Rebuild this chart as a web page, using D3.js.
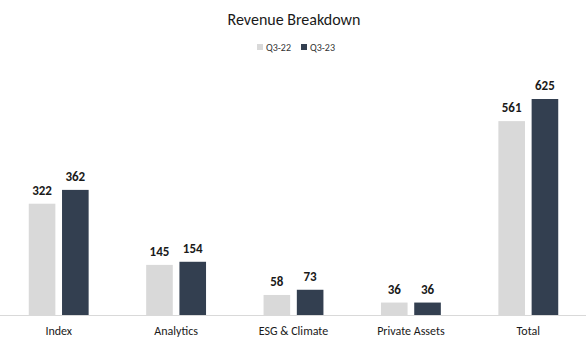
<html>
<script src='https://d3js.org/d3.v7.min.js'></script>
<body style="margin:0;background:#fff">
<svg class="chart" width=586 height=349></svg>
<script>
// chart values
var categories = ["Index", "Analytics", "ESG & Climate", "Private Assets", "Total"];
var seriesNames = ["Q3-22", "Q3-23"];
var q322 = [322, 145, 58, 36, 561];
var q323 = [362, 154, 73, 36, 625];
var colors = ["#d9d9d9", "#333f50"];

var font = "Calibri, Carlito, 'Open Sans', sans-serif";
var svg = d3.select(".chart");
var baseY = 315;

var x = d3.scaleBand().domain(categories).range([0, 587]).paddingInner(0.49).paddingOuter(0.245);
var x1 = d3.scaleBand().domain(seriesNames).range([0, x.bandwidth()]).paddingInner(0.2);
var y = d3.scaleLinear().domain([0, 625]).range([baseY, 99]);

var rows = categories.map(function(c, i) { return {cat: c, vals: [q322[i], q323[i]]}; });

// title
svg.append("text")
  .attr("x", 294).attr("y", 25)
  .attr("text-anchor", "middle")
  .style("font-family", font).style("font-size", "16px").attr("fill", "#1a1a1a")
  .text("Revenue Breakdown");

// legend
var legend = svg.append("g").attr("transform", "translate(257,47)");
seriesNames.forEach(function(s, i) {
  var g = legend.append("g").attr("transform", "translate(" + (i * 44) + ",0)");
  g.append("rect").attr("x", 0).attr("y", -3).attr("width", 6).attr("height", 6).attr("fill", colors[i]);
  g.append("text").attr("x", 9).attr("y", 3.5)
    .style("font-family", font).style("font-size", "10px").attr("fill", "#333")
    .text(s);
});

// bars
var groups = svg.selectAll(".grp").data(rows).enter()
  .append("g")
  .attr("transform", function(d) { return "translate(" + x(d.cat) + ",0)"; });

groups.selectAll("rect").data(function(d) { return d.vals.map(function(v, i) { return {s: seriesNames[i], v: v, i: i}; }); })
  .enter().append("rect")
  .attr("x", function(d) { return x1(d.s); })
  .attr("y", function(d) { return y(d.v); })
  .attr("width", x1.bandwidth())
  .attr("height", function(d) { return baseY - y(d.v); })
  .attr("fill", function(d) { return colors[d.i]; });

groups.selectAll("text").data(function(d) { return d.vals.map(function(v, i) { return {s: seriesNames[i], v: v}; }); })
  .enter().append("text")
  .attr("x", function(d) { return x1(d.s) + x1.bandwidth() / 2; })
  .attr("y", function(d) { return y(d.v) - 9; })
  .attr("text-anchor", "middle")
  .style("font-family", font).style("font-size", "13px").style("font-weight", "bold").attr("fill", "#1a1a1a")
  .text(function(d) { return d.v; });

// x axis
var xAxis = svg.append("g").attr("transform", "translate(0," + baseY + ")")
  .call(d3.axisBottom(x).tickSize(0).tickPadding(11));
xAxis.select(".domain").attr("stroke", "#d9d9d9").attr("d", "M0,0.5H586");
xAxis.selectAll("text").style("font-family", font).style("font-size", "12px").attr("fill", "#1a1a1a");
</script>
</body>
</html>
